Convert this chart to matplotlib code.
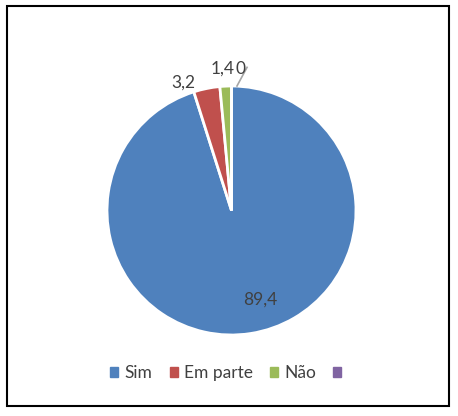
import numpy as np
import matplotlib.pyplot as plt
from matplotlib.patches import Rectangle

categories = ["Sim", "Em parte", "Não", ""]
values = [89.4, 3.2, 1.4, 0.0]
value_labels = ["89,4", "3,2", "1,4", "0"]
colors = ["#4F81BD", "#C0504D", "#9BBB59", "#8064A2"]

plt.rcParams['font.family'] = ['Lato', 'DejaVu Sans']
text_color = "#404040"

W, H = 458, 416
fig = plt.figure(figsize=(W / 100, H / 100), dpi=100)

# pie box in pixels: left 107, top 86, diameter 249
ax = fig.add_axes([107 / W, 1 - 335 / H, 249 / W, 249 / H])
wedges, _ = ax.pie(values, colors=colors, startangle=90, counterclock=False,
                   wedgeprops=dict(edgecolor="white", linewidth=2))
ax.set_xlim(-1, 1)
ax.set_ylim(-1, 1)
ax.set_aspect("equal")

label_pos = [(0.229, -0.715), (-0.386, 1.024), (-0.068, 1.14), (0.074, 1.14)]
for (x, y), lab in zip(label_pos, value_labels):
    ax.text(x, y, lab, ha="center", va="center", fontsize=12.5, color=text_color)

# leader line for the zero slice
ax.plot([0.044, 0.125], [1.0, 1.15], color="#A6A6A6", lw=1.2, clip_on=False)

handles = [Rectangle((0, 0), 1, 1, color=c) for c in colors]
leg = fig.legend(handles, categories, loc="center", bbox_to_anchor=(229 / W, 1 - 373 / H),
                 ncol=4, frameon=False, fontsize=12.5, handlelength=0.46, handleheight=0.46,
                 handletextpad=0.35, columnspacing=1.0)
for t in leg.get_texts():
    t.set_color(text_color)

fig.patches.append(Rectangle((6.5 / W, 1 - 405.5 / H), 442.5 / W, 400 / H,
                             transform=fig.transFigure, fill=False,
                             edgecolor="black", linewidth=1.5))

fig.savefig("out.png", dpi=100)
